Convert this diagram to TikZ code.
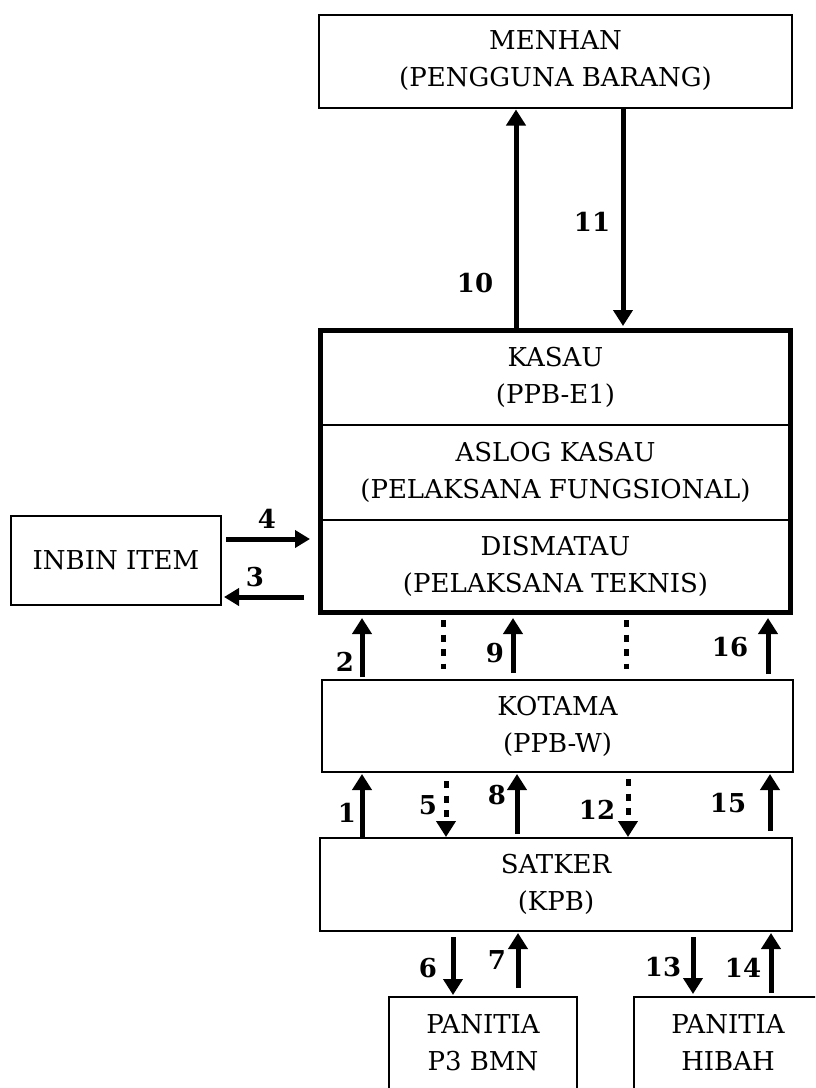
\documentclass[tikz,border=0pt]{standalone}
\usepackage{fontspec}
\setmainfont{DejaVu Serif}
\usetikzlibrary{arrows.meta,calc}
\begin{document}
\begin{tikzpicture}[x=1pt,y=-1pt,
  box/.style={draw,line width=2pt,align=center,inner sep=0pt,font=\fontsize{26pt}{37pt}\selectfont},
  sec/.style={align=center,inner sep=0pt,minimum width=470pt,font=\fontsize{26pt}{37pt}\selectfont},
  arr/.style={line width=5pt,-{Triangle[width=19pt,length=16pt]}},
  harr/.style={line width=5pt,-{Triangle[width=17pt,length=15pt]}},
  dots/.style={line width=5pt,dash pattern=on 7pt off 7.5pt},
  num/.style={font=\bfseries\fontsize{26pt}{30pt}\selectfont,inner sep=0pt}]
\useasboundingbox (0,0) rectangle (815,1088);
\clip (0,0) rectangle (815,1088);
\fill[white] (0,0) rectangle (815,1088);

% boxes
\node[box,minimum width=473pt,minimum height=93pt] (menhan) at (555.5,61) {MENHAN\\(PENGGUNA BARANG)};
\node[draw,line width=5pt,inner sep=0pt,minimum width=470pt,minimum height=282pt] (kasau) at (555.5,471.5) {};
\node[sec,minimum height=94.5pt] (k1) at (555.5,377.75) {KASAU\\(PPB-E1)};
\node[sec,minimum height=95pt] (k2) at (555.5,472.5) {ASLOG KASAU\\(PELAKSANA FUNGSIONAL)};
\node[sec,minimum height=92.5pt] (k3) at (555.5,566.25) {DISMATAU\\(PELAKSANA TEKNIS)};
\draw[line width=2pt] (kasau.west |- k1.south) -- (kasau.east |- k1.south);
\draw[line width=2pt] (kasau.west |- k2.south) -- (kasau.east |- k2.south);
\node[box,minimum width=210pt,minimum height=89pt] (inbin) at (116,560.5) {INBIN ITEM};
\node[box,minimum width=471pt,minimum height=92pt] (kotama) at (557.5,726) {KOTAMA\\(PPB-W)};
\node[box,minimum width=472pt,minimum height=93pt] (satker) at (556,884.5) {SATKER\\(KPB)};
\node[box,minimum width=188pt,minimum height=92pt] (p3) at (483,1043) {PANITIA\\P3 BMN};
\node[box,minimum width=188pt,minimum height=92pt] (hibah) at (728,1043) {PANITIA\\HIBAH};

% x / y guides
\coordinate (x10) at (516,0);
\coordinate (x11) at (623,0);
\coordinate (y4) at (0,539);
\coordinate (y3) at (0,597);
\coordinate (x2) at (362,0);
\coordinate (d1) at (443,0);
\coordinate (x9) at (513,0);
\coordinate (d2) at (626,0);
\coordinate (x16) at (768,0);
\coordinate (x1) at (362,0);
\coordinate (x5) at (446,0);
\coordinate (x8) at (517,0);
\coordinate (x12) at (628,0);
\coordinate (x15) at (770,0);
\coordinate (x6) at (453,0);
\coordinate (x7) at (518,0);
\coordinate (x13) at (693,0);
\coordinate (x14) at (771,0);

% menhan <-> kasau
\draw[arr] (kasau.north -| x10) -- ($(menhan.south -| x10)+(0,1)$);
\draw[arr] (menhan.south -| x11) -- ($(kasau.north -| x11)+(0,-2)$);
% inbin <-> kasau
\draw[harr] ($(inbin.east |- y4)+(4,0)$) -- ($(kasau.west |- y4)+(-8,0)$);
\draw[harr] ($(kasau.west |- y3)+(-14,0)$) -- ($(inbin.east |- y3)+(2,0)$);
% kotama -> kasau
\draw[arr] ($(kotama.north -| x2)+(0,-2)$) -- ($(kasau.south -| x2)+(0,3)$);
\draw[dots] ($(kasau.south -| d1)+(0,5)$) -- ($(kotama.north -| d1)+(0,-10)$);
\draw[arr] ($(kotama.north -| x9)+(0,-6)$) -- ($(kasau.south -| x9)+(0,3)$);
\draw[dots] ($(kasau.south -| d2)+(0,5)$) -- ($(kotama.north -| d2)+(0,-10)$);
\draw[arr] ($(kotama.north -| x16)+(0,-5)$) -- ($(kasau.south -| x16)+(0,3)$);
% satker <-> kotama
\draw[arr] (satker.north -| x1) -- ($(kotama.south -| x1)+(0,1)$);
\draw[dots,-{Triangle[width=19pt,length=16pt]}] ($(kotama.south -| x5)+(0,8)$) -- (satker.north -| x5);
\draw[arr] ($(satker.north -| x8)+(0,-3)$) -- ($(kotama.south -| x8)+(0,1)$);
\draw[dots,-{Triangle[width=19pt,length=16pt]}] ($(kotama.south -| x12)+(0,6)$) -- (satker.north -| x12);
\draw[arr] ($(satker.north -| x15)+(0,-6)$) -- ($(kotama.south -| x15)+(0,1)$);
% satker <-> panitia
\draw[arr] ($(satker.south -| x6)+(0,5)$) -- ($(p3.north -| x6)+(0,-1)$);
\draw[arr] ($(p3.north -| x7)+(0,-8)$) -- ($(satker.south -| x7)+(0,1)$);
\draw[arr] ($(satker.south -| x13)+(0,5)$) -- ($(hibah.north -| x13)+(0,-2)$);
\draw[arr] ($(hibah.north -| x14)+(0,-3)$) -- ($(satker.south -| x14)+(0,1)$);

% labels
\node[num] (n10) at (475,283) {10};
\node[num] (n11) at (592,222) {11};
\node[num] (n4) at (267,519) {4};
\node[num] (n3) at (255,577) {3};
\node[num] (n2) at (345,662) {2};
\node[num] (n9) at (495,653) {9};
\node[num] (n16) at (730,647) {16};
\node[num] (n1) at (347,813) {1};
\node[num] (n5) at (428,805) {5};
\node[num] (n8) at (497,795) {8};
\node[num] (n12) at (597,810) {12};
\node[num] (n15) at (728,803) {15};
\node[num] (n6) at (428,968) {6};
\node[num] (n7) at (497,960) {7};
\node[num] (n13) at (663,967) {13};
\node[num] (n14) at (743,968) {14};
\end{tikzpicture}
\end{document}
